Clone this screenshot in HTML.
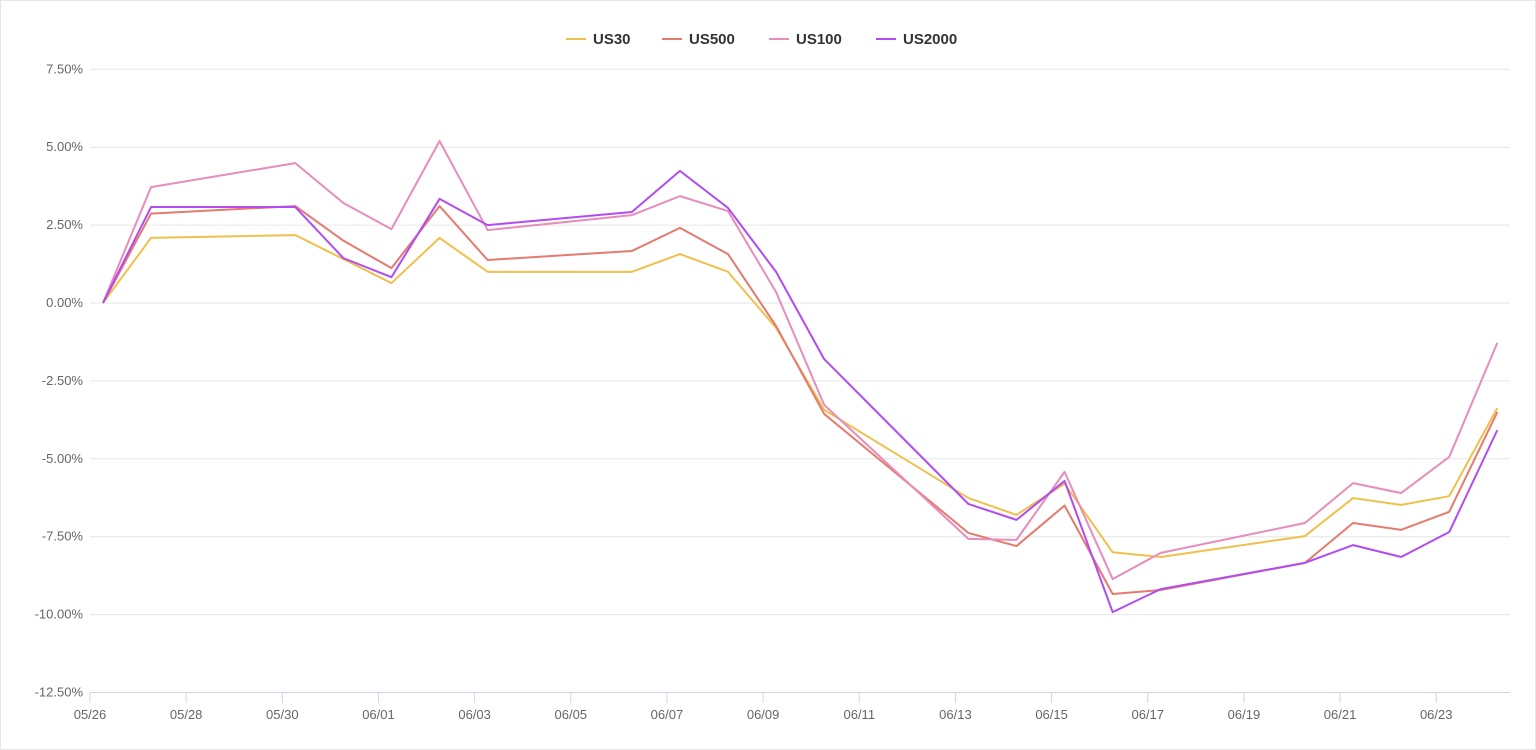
<!DOCTYPE html>
<html><head><meta charset="utf-8">
<style>
html,body{margin:0;padding:0;background:#fff;}
#wrap{position:absolute;left:0;top:0;width:1534px;height:748px;border:1px solid #e3e6ea;}
svg{position:absolute;left:0;top:0;font-family:"Liberation Sans",sans-serif;}
</style></head>
<body>
<div id="wrap"></div>
<svg id="chart" width="1536" height="750"></svg>
<script>
const days = [0.27,1.27,4.27,5.27,6.27,7.27,8.27,11.27,12.27,13.27,14.27,15.27,18.27,19.27,20.27,21.27,22.27,25.27,26.27,27.27,28.27,29.27];
const seriesNames = ["US30","US500","US100","US2000"];
const us30 = [0,2.09,2.18,1.41,0.64,2.09,1.0,1.0,1.57,1.0,-0.8,-3.43,-6.26,-6.8,-5.8,-8.0,-8.15,-7.48,-6.26,-6.48,-6.2,-3.37];
const us500 = [0,2.87,3.11,2.0,1.12,3.11,1.38,1.67,2.41,1.57,-0.74,-3.56,-7.38,-7.8,-6.5,-9.34,-9.21,-8.34,-7.06,-7.28,-6.7,-3.5];
const us100 = [0,3.72,4.49,3.21,2.37,5.2,2.34,2.82,3.43,2.95,0.35,-3.27,-7.57,-7.6,-5.42,-8.86,-8.02,-7.06,-5.78,-6.1,-4.94,-1.28];
const us2000 = [0,3.08,3.08,1.44,0.83,3.34,2.5,2.92,4.24,3.05,1.0,-1.8,-6.45,-6.96,-5.71,-9.92,-9.18,-8.34,-7.77,-8.15,-7.35,-4.08];
const yTicks = [7.5,5,2.5,0,-2.5,-5,-7.5,-10,-12.5];
const xTickLabels = ["05/26","05/28","05/30","06/01","06/03","06/05","06/07","06/09","06/11","06/13","06/15","06/17","06/19","06/21","06/23"];
const colors = ["#f0c04c","#e57a6e","#e88cbb","#b24cf2"];

const NS="http://www.w3.org/2000/svg";
const svg=document.getElementById('chart');
const X0=90,X1=1510,Y0=303,PX=31.16,DAY=48.08;
const x=d=>X0+d*DAY;
const y=v=>Y0-v*PX;
function mk(tag,attrs,parent){const e=document.createElementNS(NS,tag);for(const k in attrs)e.setAttribute(k,attrs[k]);(parent||svg).appendChild(e);return e;}

yTicks.forEach(t=>{
  const g=mk('line',{x1:X0,x2:X1,y1:y(t),y2:y(t),stroke:t===-12.5?'#ccd6eb':'#e6e6e6','stroke-width':1});
  
  
  const l=mk('text',{x:83,y:y(t)+4,'text-anchor':'end','font-size':13,fill:'#666'});
  l.textContent=t.toFixed(2)+'%';
  
  
});
xTickLabels.forEach((s,i)=>{
  const xx=x(i*2);
  const tk=mk('line',{x1:xx,x2:xx,y1:693,y2:703,stroke:'#ccd6eb'});
  
  
  const l=mk('text',{x:xx,y:719,'text-anchor':'middle','font-size':13,fill:'#666'});
  l.textContent=s;
  
  
});
[us30,us500,us100,us2000].forEach((vals,si)=>{
  const p=mk('polyline',{points:vals.map((v,i)=>x(days[i])+','+y(v)).join(' '),fill:'none',stroke:colors[si],'stroke-width':2,'stroke-linejoin':'round'});
  
  
});
const lx=[566,662,769,876];
seriesNames.forEach((n,i)=>{
  const g=mk('g',{});
  
  
  mk('line',{x1:lx[i],x2:lx[i]+20,y1:39,y2:39,stroke:colors[i],'stroke-width':2},g);
  const t=mk('text',{x:lx[i]+27,y:44,'font-size':15,'font-weight':'bold',fill:'#333'},g);
  t.textContent=n;
});
</script>
</body></html>
